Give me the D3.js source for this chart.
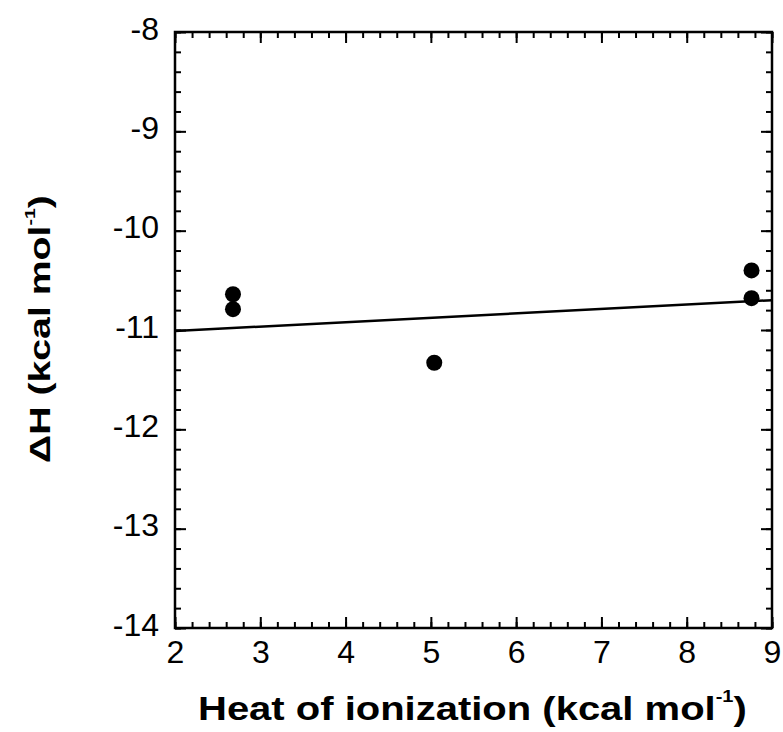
<!DOCTYPE html>
<html>
<head>
<meta charset="utf-8">
<script src="https://cdn.jsdelivr.net/npm/d3@7"></script>
<style>
  body { margin: 0; background: #fff; }
  text { font-family: "Liberation Sans", Arial, sans-serif; fill: #000; }
  .tick text { font-size: 32px; }
  .title { font-weight: bold; }
</style>
</head>
<body>
<svg width="783" height="732"></svg>
<script>
// measured points
var heatX = [2.68, 2.68, 5.04, 8.76, 8.76];
var deltaH = [-10.64, -10.79, -11.33, -10.40, -10.68];
// straight line drawn across the frame
var fitX = [2, 9];
var fitY = [-11.01, -10.70];

var xTicks = [2, 3, 4, 5, 6, 7, 8, 9];
var yTicks = [-8, -9, -10, -11, -12, -13, -14];

var svg = d3.select("svg");
var padL = 175, padR = 772, padT = 32, padB = 628;

var x = d3.scaleLinear().domain([2, 9]).range([padL, padR]);
var y = d3.scaleLinear().domain([-14, -8]).range([padB, padT]);

var minorX = d3.range(2, 9.001, 0.2);
var minorY = d3.range(-14, -7.999, 0.2);

function ticks(axis, g) {
  g.call(axis);
  g.select(".domain").remove();
  g.selectAll(".tick line").attr("stroke", "#000").attr("stroke-width", 2);
}

// minor ticks (inside)
ticks(d3.axisBottom(x).tickValues(minorX).tickSize(-6).tickFormat(""),
  svg.append("g").attr("transform", "translate(0," + padB + ")"));
ticks(d3.axisTop(x).tickValues(minorX).tickSize(-6).tickFormat(""),
  svg.append("g").attr("transform", "translate(0," + padT + ")"));
ticks(d3.axisLeft(y).tickValues(minorY).tickSize(-6).tickFormat(""),
  svg.append("g").attr("transform", "translate(" + padL + ",0)"));
ticks(d3.axisRight(y).tickValues(minorY).tickSize(-6).tickFormat(""),
  svg.append("g").attr("transform", "translate(" + padR + ",0)"));

// major ticks with labels
var xAxis = svg.append("g").attr("transform", "translate(0," + padB + ")");
ticks(d3.axisBottom(x).tickValues(xTicks).tickSize(-11).tickPadding(12).tickFormat(d3.format("d")), xAxis);

var yAxis = svg.append("g").attr("transform", "translate(" + padL + ",0)");
ticks(d3.axisLeft(y).tickValues(yTicks).tickSize(-11).tickPadding(16).tickFormat(function(d) { return d < 0 ? "-" + Math.abs(d) : d; }), yAxis);
yAxis.selectAll(".tick text").attr("dy", "0.22em");

ticks(d3.axisTop(x).tickValues(xTicks).tickSize(-11).tickFormat(""),
  svg.append("g").attr("transform", "translate(0," + padT + ")"));
ticks(d3.axisRight(y).tickValues(yTicks).tickSize(-11).tickFormat(""),
  svg.append("g").attr("transform", "translate(" + padR + ",0)"));

// frame
svg.append("rect")
  .attr("x", padL).attr("y", padT)
  .attr("width", padR - padL).attr("height", padB - padT)
  .attr("fill", "none").attr("stroke", "#000").attr("stroke-width", 2.5);

// line
var line = d3.line().x(function(d) { return x(d); }).y(function(d, i) { return y(fitY[i]); });
svg.append("path")
  .attr("d", line(fitX))
  .attr("fill", "none").attr("stroke", "#000").attr("stroke-width", 2.5);

// points
svg.selectAll("circle.pt")
  .data(heatX)
  .enter()
  .append("circle")
  .attr("class", "pt")
  .attr("cx", function(d) { return x(d); })
  .attr("cy", function(d, i) { return y(deltaH[i]); })
  .attr("r", 8)
  .attr("fill", "#000");

// axis titles, stretched along the text to the width seen in the figure
function title(label, size, place, want) {
  var g = svg.append("g").attr("transform", place);
  var t = g.append("text").attr("class", "title").attr("font-size", size);
  t.append("tspan").text(label);
  t.append("tspan").attr("dy", -size * 0.52).attr("font-size", size * 0.5).text("-1");
  t.append("tspan").attr("dy", size * 0.52).text(")");
  var w = t.node().getBBox().width;
  t.attr("transform", "scale(" + (want / w) + ",1) translate(" + (-w / 2) + ",0)");
}
title("Heat of ionization (kcal mol", 34, "translate(" + 472.5 + ",720)", 549);
title("\u0394H (kcal mol", 29, "translate(50,329) rotate(-90)", 268);
</script>
</body>
</html>
